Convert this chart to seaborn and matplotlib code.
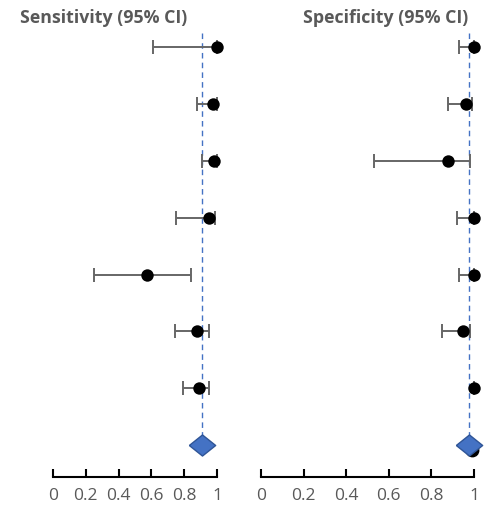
import numpy as np
import pandas as pd
import seaborn as sns
import matplotlib
matplotlib.use("Agg")
import matplotlib.pyplot as plt

sns.set_style("white")
plt.rcParams['font.family'] = ['Open Sans', 'DejaVu Sans']

# Sensitivity (7 studies)
sens_est = [1.00, 0.976, 0.98, 0.951, 0.571, 0.88, 0.89]
sens_lo = [0.61, 0.878, 0.91, 0.75, 0.248, 0.742, 0.79]
sens_hi = [1.00, 1.00, 1.00, 0.99, 0.841, 0.951, 0.953]
sens_pooled = 0.907

# Specificity (7 studies)
spec_est = [1.00, 0.961, 0.878, 1.00, 1.00, 0.95, 1.00]
spec_lo = [0.931, 0.88, 0.53, 0.92, 0.93, 0.85, 1.00]
spec_hi = [1.00, 0.99, 0.98, 1.00, 1.00, 0.98, 1.00]
spec_pooled = 0.978
spec_pooled_point = 0.99

titles = ["Sensitivity (95% CI)", "Specificity (95% CI)"]
tick_vals = [0, 0.2, 0.4, 0.6, 0.8, 1]
tick_labels = ["0", "0.2", "0.4", "0.6", "0.8", "1"]

W, H = 488, 508
fig = plt.figure(figsize=(W / 100, H / 100), dpi=100)

def px_axes(x0, x1, ytop, ybot):
    return fig.add_axes([x0 / W, 1 - ybot / H, (x1 - x0) / W, (ybot - ytop) / H])

axL = px_axes(53, 217, 30, 477)
axR = px_axes(261, 474, 30, 477)

gray = "#595959"
diamond = [(-1, 0), (0, 0.8), (1, 0), (0, -0.8), (-1, 0)]

def panel(ax, est, lo, hi, pooled, pooled_point=None):
    n = len(est)
    rows = np.arange(1, n + 1)
    df = pd.DataFrame({"est": est, "row": rows})
    est_a = np.array(est); lo_a = np.array(lo); hi_a = np.array(hi)
    ax.vlines(pooled, 0.75, n + 1, colors="#4472C4", linestyles=(0, (4, 3)), linewidth=1.0, zorder=1)
    ax.errorbar(est_a, rows, xerr=[est_a - lo_a, hi_a - est_a], fmt="none",
                ecolor="#666666", elinewidth=1.4, capsize=5, capthick=1.4, zorder=2, clip_on=False)
    sns.scatterplot(data=df, x="est", y="row", ax=ax, color="black", s=80,
                    edgecolor="black", linewidth=0, zorder=3, clip_on=False)
    if pooled_point is not None:
        ax.scatter([pooled_point], [n + 1.08], s=80, color="black", zorder=3, clip_on=False)
    pdf = pd.DataFrame({"est": [pooled], "row": [n + 1]})
    sns.scatterplot(data=pdf, x="est", y="row", ax=ax, marker=diamond, s=360,
                    color="#4472C4", edgecolor="#2F5597", linewidth=1, zorder=4, clip_on=False)
    ax.set_xlim(0, 1)
    ax.set_ylim(n + 1.56, 0.70)
    ax.set_xlabel(""); ax.set_ylabel("")
    ax.set_yticks([])
    ax.set_xticks(tick_vals)
    ax.set_xticklabels(tick_labels, fontsize=12.5, color=gray)
    for s in ["top", "left", "right"]:
        ax.spines[s].set_visible(False)
    ax.spines["bottom"].set_color("black")
    ax.spines["bottom"].set_linewidth(1.5)
    ax.tick_params(axis="x", bottom=True, direction="in", length=6, width=1.5,
                   color="black", pad=8)
    ax.patch.set_alpha(0)

panel(axL, sens_est, sens_lo, sens_hi, sens_pooled)
panel(axR, spec_est, spec_lo, spec_hi, spec_pooled, spec_pooled_point)

fig.text(104 / W, 1 - 18 / H, titles[0], ha="center", va="center", fontsize=12.8,
         fontweight="bold", color=gray)
fig.text(386 / W, 1 - 18 / H, titles[1], ha="center", va="center", fontsize=12.8,
         fontweight="bold", color=gray)

fig.savefig("out.png", dpi=100)
